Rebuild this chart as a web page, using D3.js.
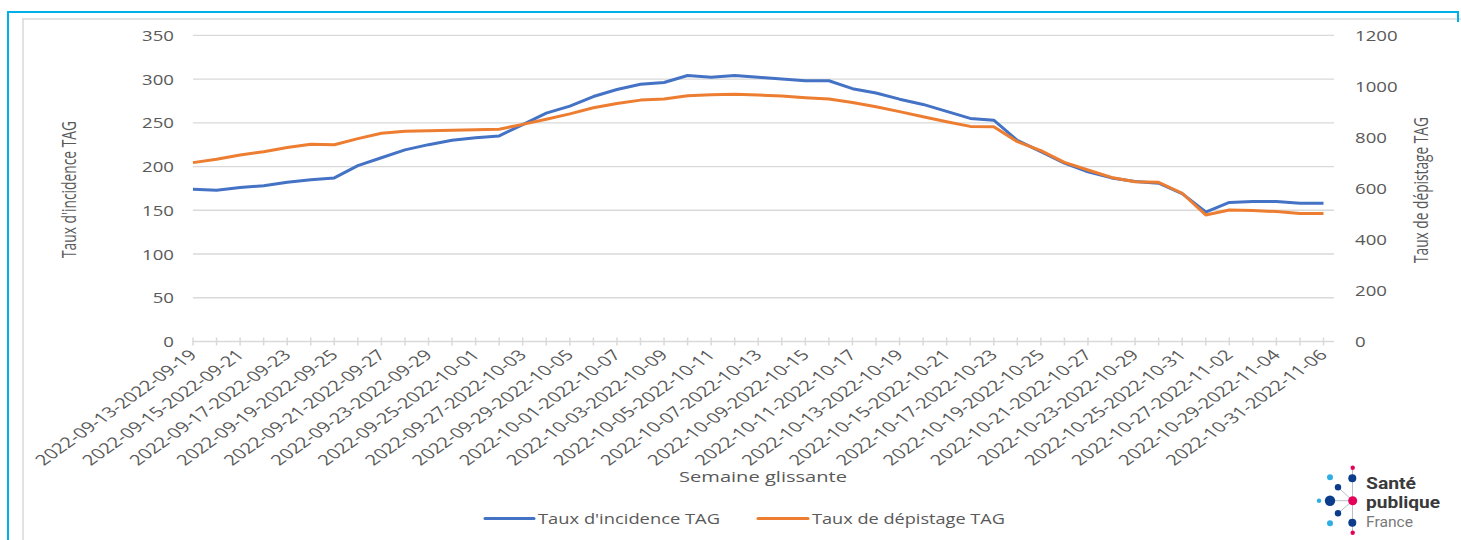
<!DOCTYPE html>
<html>
<head>
<meta charset="utf-8">
<script src="https://cdn.jsdelivr.net/npm/d3@7"></script>
<style>
  body { margin: 0; background: #fff; }
  text { font-family: 'Open Sans', 'DejaVu Sans', sans-serif; fill: #595959; }
</style>
</head>
<body>
<svg id="chart" width="1461" height="540"></svg>
<script>
// Categories: rolling 7-day windows
const weeks = [
  '2022-09-13-2022-09-19', '2022-09-14-2022-09-20', '2022-09-15-2022-09-21', '2022-09-16-2022-09-22',
  '2022-09-17-2022-09-23', '2022-09-18-2022-09-24', '2022-09-19-2022-09-25', '2022-09-20-2022-09-26',
  '2022-09-21-2022-09-27', '2022-09-22-2022-09-28', '2022-09-23-2022-09-29', '2022-09-24-2022-09-30',
  '2022-09-25-2022-10-01', '2022-09-26-2022-10-02', '2022-09-27-2022-10-03', '2022-09-28-2022-10-04',
  '2022-09-29-2022-10-05', '2022-09-30-2022-10-06', '2022-10-01-2022-10-07', '2022-10-02-2022-10-08',
  '2022-10-03-2022-10-09', '2022-10-04-2022-10-10', '2022-10-05-2022-10-11', '2022-10-06-2022-10-12',
  '2022-10-07-2022-10-13', '2022-10-08-2022-10-14', '2022-10-09-2022-10-15', '2022-10-10-2022-10-16',
  '2022-10-11-2022-10-17', '2022-10-12-2022-10-18', '2022-10-13-2022-10-19', '2022-10-14-2022-10-20',
  '2022-10-15-2022-10-21', '2022-10-16-2022-10-22', '2022-10-17-2022-10-23', '2022-10-18-2022-10-24',
  '2022-10-19-2022-10-25', '2022-10-20-2022-10-26', '2022-10-21-2022-10-27', '2022-10-22-2022-10-28',
  '2022-10-23-2022-10-29', '2022-10-24-2022-10-30', '2022-10-25-2022-10-31', '2022-10-26-2022-11-01',
  '2022-10-27-2022-11-02', '2022-10-28-2022-11-03', '2022-10-29-2022-11-04', '2022-10-30-2022-11-05',
  '2022-10-31-2022-11-06'
];

// Taux d'incidence TAG (left axis)
const incidence = [174, 173, 176, 178, 182, 185, 187, 201, 210, 219, 225, 230, 233, 235, 248, 261,
  269, 280, 288, 294, 296, 304, 302, 304, 302, 300, 298, 298, 289, 284, 277, 271,
  263, 255, 253, 230, 217, 204, 194, 187, 183, 181, 169, 148, 159, 160, 160, 158, 158];

// Taux de dépistage TAG (right axis)
const depistage = [701, 714, 731, 744, 760, 773, 771, 795, 816, 824, 826, 828, 830, 832, 851, 871,
  892, 916, 933, 946, 950, 963, 967, 969, 966, 962, 955, 950, 937, 920, 901, 881,
  861, 843, 842, 783, 748, 702, 672, 643, 626, 624, 581, 496, 515, 513, 509, 502, 502];

const leftTicks = [0, 50, 100, 150, 200, 250, 300, 350];
const rightTicks = [0, 200, 400, 600, 800, 1000, 1200];
const seriesNames = ["Taux d'incidence TAG", 'Taux de dépistage TAG'];
const seriesColors = ['#4472c4', '#ed7d31'];

const svg = d3.select('#chart');
const gridColor = '#d9d9d9';
const SX = 1.33; // horizontal stretch of the tick labels
const SXL = 1.4; // stretch of rotated labels

// Frame
svg.append('rect').attr('width', 1461).attr('height', 540).attr('fill', '#fff');
svg.append('path')
  .attr('d', 'M23,540 V19 H1461')
  .attr('fill', 'none').attr('stroke', '#d9d9d9').attr('stroke-width', 1.5);
svg.append('path')
  .attr('d', 'M8,540 V12 H1458 V22')
  .attr('fill', 'none').attr('stroke', '#00b0e6').attr('stroke-width', 2);

// Scales
const x = d3.scalePoint().domain(weeks).range([193, 1323.5]);
const yL = d3.scaleLinear().domain([0, 350]).range([341.5, 35.3]);
const yR = d3.scaleLinear().domain([0, 1200]).range([341.5, 35.3]);
const xEnd = 1334;

// Gridlines
svg.append('g').selectAll('line')
  .data(leftTicks.slice(1))
  .join('line')
  .attr('x1', 193).attr('x2', xEnd)
  .attr('y1', d => yL(d)).attr('y2', d => yL(d))
  .attr('stroke', gridColor).attr('stroke-width', 1.3);

// Category axis
svg.append('line')
  .attr('x1', 193).attr('x2', xEnd)
  .attr('y1', yL(0)).attr('y2', yL(0))
  .attr('stroke', gridColor).attr('stroke-width', 1.5);
svg.append('g').selectAll('line')
  .data(weeks)
  .join('line')
  .attr('x1', d => x(d)).attr('x2', d => x(d))
  .attr('y1', yL(0) - 4).attr('y2', yL(0) + 4)
  .attr('stroke', gridColor).attr('stroke-width', 1.5);

// Left tick labels
svg.append('g').selectAll('text')
  .data(leftTicks)
  .join('text')
  .attr('transform', d => `translate(174,${yL(d)}) scale(${SX},1)`)
  .attr('text-anchor', 'end')
  .attr('dominant-baseline', 'central')
  .attr('font-size', 14)
  .text(d => d);

// Right tick labels
svg.append('g').selectAll('text')
  .data(rightTicks)
  .join('text')
  .attr('transform', d => `translate(1355,${yR(d)}) scale(${SX},1)`)
  .attr('text-anchor', 'start')
  .attr('dominant-baseline', 'central')
  .attr('font-size', 14)
  .text(d => d);

// Category labels, every other week
svg.append('g').selectAll('text')
  .data(weeks.filter((d, i) => i % 2 === 0))
  .join('text')
  .attr('transform', d => `translate(${x(d) + 5},356) scale(${SXL},1) rotate(-45)`)
  .attr('text-anchor', 'end')
  .attr('font-size', 14.5)
  .text(d => d);

// Axis titles
svg.append('text')
  .attr('transform', `translate(76,189.5) scale(${SXL},1) rotate(-90)`)
  .attr('text-anchor', 'middle')
  .attr('font-size', 14)
  .attr('textLength', 137).attr('lengthAdjust', 'spacingAndGlyphs')
  .text("Taux d'incidence TAG");
svg.append('text')
  .attr('transform', `translate(1428,190) scale(${SXL},1) rotate(-90)`)
  .attr('text-anchor', 'middle')
  .attr('font-size', 14)
  .attr('textLength', 146).attr('lengthAdjust', 'spacingAndGlyphs')
  .text('Taux de dépistage TAG');
svg.append('text')
  .attr('x', 679).attr('y', 481.5)
  .attr('font-size', 15)
  .attr('textLength', 168).attr('lengthAdjust', 'spacingAndGlyphs')
  .text('Semaine glissante');

// Lines
const lineL = d3.line().x((d, i) => x(weeks[i])).y(d => yL(d));
const lineR = d3.line().x((d, i) => x(weeks[i])).y(d => yR(d));
svg.append('path')
  .datum(incidence)
  .attr('d', lineL)
  .attr('fill', 'none').attr('stroke', seriesColors[0])
  .attr('stroke-width', 3).attr('stroke-linejoin', 'round');
svg.append('path')
  .datum(depistage)
  .attr('d', lineR)
  .attr('fill', 'none').attr('stroke', seriesColors[1])
  .attr('stroke-width', 3).attr('stroke-linejoin', 'round');

// Legend
const legendItems = [
  { x1: 485, x2: 534, tx: 538, w: 182 },
  { x1: 758, x2: 808, tx: 812, w: 193 }
];
legendItems.forEach((it, i) => {
  svg.append('line')
    .attr('x1', it.x1).attr('x2', it.x2)
    .attr('y1', 518.5).attr('y2', 518.5)
    .attr('stroke', seriesColors[i]).attr('stroke-width', 3)
    .attr('stroke-linecap', 'round');
  svg.append('text')
    .attr('x', it.tx).attr('y', 524)
    .attr('font-size', 15)
    .attr('textLength', it.w).attr('lengthAdjust', 'spacingAndGlyphs')
    .text(seriesNames[i]);
});

// Santé publique France logo
const logo = svg.append('g');
const dots = [
  [1352.7, 467.7, 2.2, '#e5005a'], [1352.3, 478.3, 4, '#0b3d8c'], [1330, 477.3, 3, '#2eaee4'],
  [1338, 487.3, 3.2, '#0b3d8c'], [1319, 500.7, 2.2, '#2eaee4'], [1330, 500.7, 5.2, '#0b3d8c'],
  [1352.7, 500.7, 4.5, '#e5005a'], [1338, 513.3, 3.2, '#0b3d8c'], [1330, 523.3, 3, '#2eaee4'],
  [1352.3, 522.7, 4, '#0b3d8c'], [1352.7, 532.7, 2.2, '#e5005a']
];
logo.append('path')
  .attr('d', 'M1352.5,468 V533 M1330,500.7 H1352.7 M1338,487.3 L1352.7,500.7 L1338,513.3')
  .attr('stroke', '#9aa3b5').attr('stroke-width', 0.7).attr('fill', 'none');
logo.selectAll('circle')
  .data(dots)
  .join('circle')
  .attr('cx', d => d[0]).attr('cy', d => d[1]).attr('r', d => d[2]).attr('fill', d => d[3]);
logo.append('text').attr('x', 1366).attr('y', 489)
  .attr('font-size', 16).attr('font-weight', 'bold')
  .style('font-family', 'Roboto, sans-serif').style('fill', '#3a3a3a')
  .attr('textLength', 50).attr('lengthAdjust', 'spacingAndGlyphs')
  .text('Santé');
logo.append('text').attr('x', 1366).attr('y', 507.5)
  .attr('font-size', 16).attr('font-weight', 'bold')
  .style('font-family', 'Roboto, sans-serif').style('fill', '#3a3a3a')
  .attr('textLength', 74).attr('lengthAdjust', 'spacingAndGlyphs')
  .text('publique');
logo.append('text').attr('x', 1366).attr('y', 527)
  .attr('font-size', 15)
  .style('font-family', 'Roboto, sans-serif').style('fill', '#7a7a7a')
  .attr('textLength', 47).attr('lengthAdjust', 'spacingAndGlyphs')
  .text('France');
</script>
</body>
</html>
